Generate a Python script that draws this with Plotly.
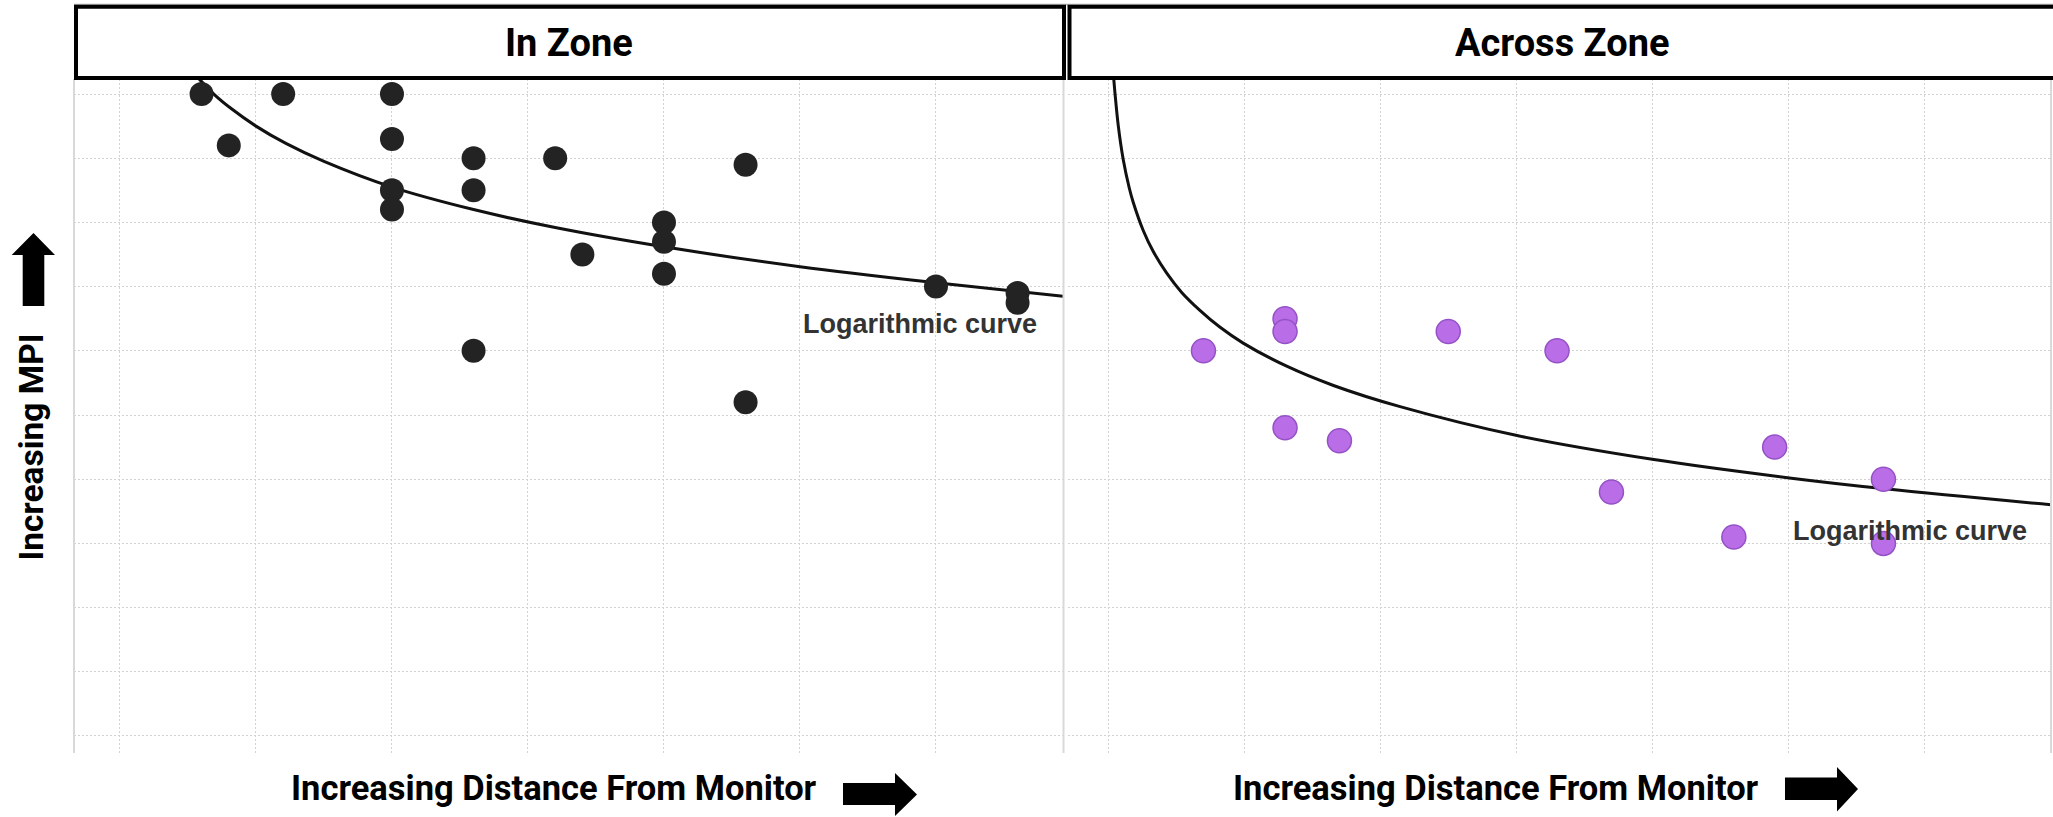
import plotly.graph_objects as go

W, H = 2053, 817

# ---------------- data ----------------
# In Zone: distance units (gridline every 5), MPI units (gridline every 1)
in_x = [8, 9, 11, 15, 15, 15, 15, 18, 18, 18, 21, 22, 25, 25, 25, 28, 28, 35, 38, 38]
in_y = [10.0, 9.2, 10.0, 10.0, 9.3, 8.5, 8.2, 9.0, 8.5, 6.0, 9.0, 7.5, 8.0, 7.7, 7.2, 8.9, 5.2, 7.0, 6.9, 6.75]
in_curve_x = [7.9, 8.5, 9.1, 10.0, 11.1, 12.5, 15.0, 18.0, 21.0, 25.0, 30.0, 35.0, 39.7]
in_curve_y = [10.24, 9.98, 9.77, 9.50, 9.23, 8.95, 8.55, 8.20, 7.92, 7.62, 7.31, 7.06, 6.85]

# Across Zone
across_x = [8.5, 11.5, 11.5, 11.5, 13.5, 17.5, 21.5, 23.5, 28.0, 29.5, 33.5, 33.5]
across_y = [6.0, 6.5, 6.3, 4.8, 4.6, 6.3, 6.0, 3.8, 3.1, 4.5, 4.0, 3.0]
across_curve_x = [5.19, 5.25, 5.37, 5.55, 5.77, 5.92, 6.29, 6.65, 7.15, 7.7, 8.37, 9.1, 9.96,
                  11.56, 13.28, 15.73, 20.03, 25.0, 30.04, 33.57, 39.7]
across_curve_y = [10.3, 10.0, 9.50, 8.98, 8.54, 8.31, 7.87, 7.55, 7.21, 6.91, 6.63, 6.37, 6.12,
                  5.76, 5.46, 5.13, 4.68, 4.31, 4.02, 3.85, 3.60]

panel_titles = ["In Zone", "Across Zone"]
x_title = "Increasing Distance From Monitor"
y_title = "Increasing MPI"
curve_label = "Logarithmic curve"

# ---------------- helpers ----------------
def px(x):
    return x / W

def py(y):
    return 1 - y / H

TITLE_FONT = "Roboto"
GRID = "#d2d2d2"

fig = go.Figure()

fig.add_trace(go.Scatter(x=in_curve_x, y=in_curve_y, mode="lines",
                         line=dict(color="#111111", width=3, shape="spline", smoothing=1.0),
                         xaxis="x", yaxis="y", hoverinfo="skip"))
fig.add_trace(go.Scatter(x=in_x, y=in_y, mode="markers",
                         marker=dict(color="#232323", size=24, line=dict(width=0)),
                         xaxis="x", yaxis="y"))
fig.add_trace(go.Scatter(x=across_curve_x, y=across_curve_y, mode="lines",
                         line=dict(color="#111111", width=3, shape="spline", smoothing=1.0),
                         xaxis="x2", yaxis="y2", hoverinfo="skip"))
fig.add_trace(go.Scatter(x=across_x, y=across_y, mode="markers",
                         marker=dict(color="#b96ee8", size=24,
                                     line=dict(color="#9552c6", width=1.5)),
                         xaxis="x2", yaxis="y2"))

ydom = [py(753), py(79)]
common_x = dict(showgrid=True, gridcolor=GRID, griddash="2px,2px", gridwidth=1,
                showticklabels=False, zeroline=False, ticks="", showline=False,
                tick0=5, dtick=5)
common_y = dict(showgrid=True, gridcolor=GRID, griddash="2px,2px", gridwidth=1,
                showticklabels=False, zeroline=False, ticks="", showline=False,
                tick0=0, dtick=1, range=[-0.265, 10.234], domain=ydom)

fig.update_layout(
    width=W, height=H,
    margin=dict(l=0, r=0, t=0, b=0),
    paper_bgcolor="white", plot_bgcolor="white",
    showlegend=False,
    xaxis=dict(domain=[px(74), px(1063)], range=[3.31, 39.67], anchor="y", **common_x),
    xaxis2=dict(domain=[px(1068), px(2051)], range=[3.52, 39.66], anchor="y2", **common_x),
    yaxis=dict(anchor="x", **common_y),
    yaxis2=dict(anchor="x2", matches="y", **common_y),
)

shapes = []
# light axis / panel lines
for xl in (74, 1063.5, 2051):
    shapes.append(dict(type="line", xref="paper", yref="paper",
                       x0=px(xl), x1=px(xl), y0=py(79), y1=py(753),
                       line=dict(color="#d9d9d9", width=2), layer="above"))
# faint top line
shapes.append(dict(type="line", xref="paper", yref="paper",
                   x0=px(74), x1=1, y0=py(4.5), y1=py(4.5),
                   line=dict(color="#b0b0b0", width=1.5), layer="above"))
# header boxes
shapes.append(dict(type="rect", xref="paper", yref="paper",
                   x0=px(76), x1=px(1064), y0=py(78), y1=py(6.7),
                   line=dict(color="black", width=4), fillcolor="white", layer="above"))
shapes.append(dict(type="rect", xref="paper", yref="paper",
                   x0=px(1069.5), x1=px(2062), y0=py(78), y1=py(6.7),
                   line=dict(color="black", width=4), fillcolor="white", layer="above"))

def path(points):
    s = "M " + " L ".join(f"{px(a):.6f},{py(b):.6f}" for a, b in points) + " Z"
    return s

# up arrow
up = [(33.5, 233), (55, 255), (44.3, 255), (44.3, 306), (22.7, 306), (22.7, 255), (11.7, 255)]
# right arrows
r1 = [(843, 783), (895, 783), (895, 773), (917, 794.5), (895, 816), (895, 805), (843, 805)]
r2 = [(1785, 777.5), (1837, 777.5), (1837, 767), (1858, 789), (1837, 811.5), (1837, 800), (1785, 800)]
for pts in (up, r1, r2):
    shapes.append(dict(type="path", xref="paper", yref="paper", path=path(pts),
                       fillcolor="black", line=dict(color="black", width=0), layer="above"))

fig.update_layout(shapes=shapes)

ann = []
ann.append(dict(text=f"<b>{panel_titles[0]}</b>", x=px(568.5), y=py(42.5), xref="paper", yref="paper",
                showarrow=False, xanchor="center", yanchor="middle",
                font=dict(family=TITLE_FONT, size=38, color="black")))
ann.append(dict(text=f"<b>{panel_titles[1]}</b>", x=px(1562), y=py(42.5), xref="paper", yref="paper",
                showarrow=False, xanchor="center", yanchor="middle",
                font=dict(family=TITLE_FONT, size=38, color="black")))
for cx in (553.5, 1496):
    ann.append(dict(text=f"<b>{x_title}</b>", x=px(cx), y=py(788), xref="paper", yref="paper",
                    showarrow=False, xanchor="center", yanchor="middle",
                    font=dict(family=TITLE_FONT, size=34.5, color="black")))
ann.append(dict(text=f"<b>{y_title}</b>", x=px(31), y=py(447.5), xref="paper", yref="paper",
                showarrow=False, xanchor="center", yanchor="middle", textangle=-90,
                font=dict(family=TITLE_FONT, size=33.5, color="black")))
ann.append(dict(text=f"<b>{curve_label}</b>", x=34.43, y=6.42, xref="x", yref="y",
                showarrow=False, xanchor="center", yanchor="middle",
                font=dict(family="Liberation Sans, Arial", size=27, color="#333333")))
ann.append(dict(text=f"<b>{curve_label}</b>", x=34.47, y=3.19, xref="x2", yref="y2",
                showarrow=False, xanchor="center", yanchor="middle",
                font=dict(family="Liberation Sans, Arial", size=27, color="#333333")))
fig.update_layout(annotations=ann)

fig.write_html("out.html")
